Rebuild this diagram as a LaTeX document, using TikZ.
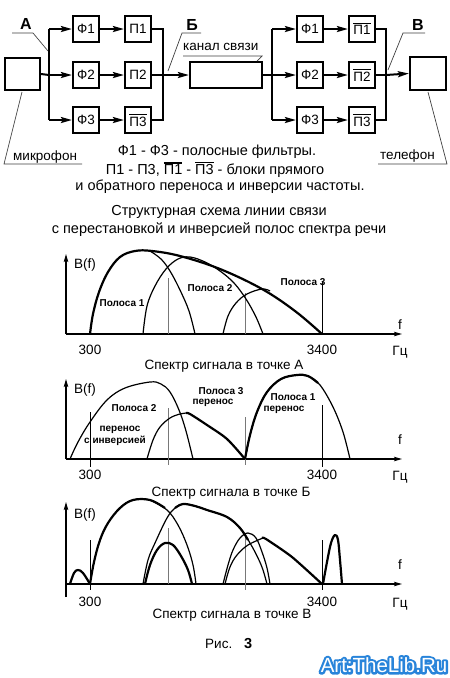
\documentclass[tikz,border=0pt]{standalone}
\usepackage{fontspec}
\setmainfont{Liberation Sans}
\usetikzlibrary{arrows.meta}
\newcommand\ovl[1]{\vbox{\hrule height 1.4pt\kern 1.3pt\hbox{#1}}}
\definecolor{wmblue}{RGB}{40,132,218}
\definecolor{gline}{RGB}{120,120,120}
\tikzset{
  txt/.style={font=\fontsize{13.5}{16}\selectfont, inner sep=0pt},
  txtb/.style={font=\fontsize{14.5}{17}\selectfont, inner sep=0pt},
  big/.style={font=\bfseries\fontsize{16}{18}\selectfont, inner sep=0pt},
  lbl/.style={font=\bfseries\fontsize{10}{12}\selectfont, inner sep=0pt},
  blk/.style={draw, line width=2.2pt, minimum width=26pt, minimum height=26pt, inner sep=0pt, font=\fontsize{13.5}{16}\selectfont},
  wire/.style={line width=2pt},
  arr/.style={line width=2pt, -{Stealth[length=11pt,width=6pt,inset=2pt]}},
  lead/.style={line width=0.7pt, black!75},
  axis/.style={line width=1.2pt, -{Stealth[length=8pt,width=4.5pt,inset=1.5pt]}},
  thk/.style={line width=2.2pt, line join=round},
  thn/.style={line width=1.2pt, line join=round},
  vl/.style={line width=0.8pt},
  gl/.style={line width=0.9pt, gline},
  wm/.style={font=\fontsize{20.5}{24}\selectfont, inner sep=0pt}
}
\begin{document}
\begin{tikzpicture}[x=1pt,y=-1pt]
\useasboundingbox[fill=white] (0,0) rectangle (450,678);

% ---------- block diagram ----------
\node[draw, line width=2.2pt, minimum width=35pt, minimum height=32pt] (mic) at (22.5,74) {};
\node[blk] (f1) at (86,29) {Ф1};
\node[blk] (f2) at (86,75) {Ф2};
\node[blk] (f3) at (86,120) {Ф3};
\node[blk] (p1) at (138,29) {П1};
\node[blk] (p2) at (138,75) {П2};
\node[blk] (p3) at (138,120) {\ovl{П3}};
\node[draw, line width=2.2pt, minimum width=72pt, minimum height=26pt] (chan) at (226,75) {};
\node[blk] (g1) at (310,29) {Ф1};
\node[blk] (g2) at (310,75) {Ф2};
\node[blk] (g3) at (310,120) {Ф3};
\node[blk] (q1) at (362,29) {\ovl{П1}};
\node[blk] (q2) at (362,75) {\ovl{П2}};
\node[blk] (q3) at (362,120) {\ovl{П3}};
\node[draw, line width=2.2pt, minimum width=36pt, minimum height=33pt] (tel) at (428,73.5) {};

\coordinate (a1) at (49,29); \coordinate (a2) at (49,75); \coordinate (a3) at (49,120);
\coordinate (b1) at (163,29); \coordinate (b2) at (163,75); \coordinate (b3) at (163,120);
\coordinate (c1) at (272,29); \coordinate (c2) at (272,75); \coordinate (c3) at (272,120);
\coordinate (d1) at (386,29); \coordinate (d2) at (386,75); \coordinate (d3) at (386,120);

\draw[wire] (mic.east) -- (a2);
\draw[wire] (a1) -- (a3);
\draw[arr] (a1) -- (f1.west);
\draw[arr] (a2) -- (f2.west);
\draw[arr] (a3) -- (f3.west);
\draw[arr] (f1) -- (p1);
\draw[arr] (f2) -- (p2);
\draw[arr] (f3) -- (p3);
\draw[wire] (p1.east) -- (b1) -- (b3) -- (p3.east);
\draw[wire] (p2.east) -- (b2);
\draw[arr] (b2) -- (chan.west);
\draw[wire] (chan.east) -- (c2);
\draw[wire] (c1) -- (c3);
\draw[arr] (c1) -- (g1.west);
\draw[arr] (c2) -- (g2.west);
\draw[arr] (c3) -- (g3.west);
\draw[arr] (g1) -- (q1);
\draw[arr] (g2) -- (q2);
\draw[arr] (g3) -- (q3);
\draw[wire] (q1.east) -- (d1) -- (d3) -- (q3.east);
\draw[wire] (q2.east) -- (d2);
\draw[arr] (d2) -- (tel.west);

% labels with leaders
\node[big] (lA) at (26,24) {А};
\coordinate (lAl) at (12,33); \coordinate (lAr) at (33,33); \coordinate (lAe) at (48,51);
\draw[lead] (lAl) -- (lAr) -- (lAe);
\node[big] (lB) at (192,25) {Б};
\coordinate (lBl) at (182,33); \coordinate (lBr) at (201,33); \coordinate (lBe) at (168,71);
\draw[lead] (lBr) -- (lBl) -- (lBe);
\node[big] (lV) at (418,25) {В};
\coordinate (lVl) at (403,33); \coordinate (lVr) at (425,33); \coordinate (lVe) at (388,70);
\draw[lead] (lVr) -- (lVl) -- (lVe);
\node[txt, anchor=west] (kan) at (183,47) {канал связи};
\coordinate (kl) at (183,56); \coordinate (kr) at (262,56); \coordinate (ke) at (257,61);
\draw[lead] (kl) -- (kr) -- (ke);
\node[txt, anchor=west] (mk) at (13,157) {микрофон};
\coordinate (ml) at (4,164); \coordinate (mr) at (82,164); \coordinate (me) at (22,92);
\draw[lead] (mr) -- (ml) -- (me);
\node[txt, anchor=west] (tf) at (380,156) {телефон};
\coordinate (tl) at (378,164); \coordinate (tr) at (447,164); \coordinate (te) at (428,92);
\draw[lead] (tl) -- (tr) -- (te);

% caption texts
\node[txtb] (t1) at (217,152) {Ф1 - Ф3 - полосные фильтры.};
\node[txtb] (t2) at (215,170) {П1 - П3, \ovl{П1} - \ovl{П3} - блоки прямого};
\node[txtb] (t3) at (220,187) {и обратного переноса и инверсии частоты.};
\node[txtb] (t4) at (219,212) {Структурная схема линии связи};
\node[txtb] (t5) at (219,230) {с перестановкой и инверсией полос спектра речи};

% ---------- graph 1 ----------
\draw[axis] (66,334) -- (402,334);
\draw[axis] (66,334) -- (66,254);
\draw[gl] (168,278) -- (168,334);
\draw[gl] (245,293) -- (245,334);
\draw[vl] (322,282) -- (322,334);
\draw[thn] plot[smooth, tension=0.6] coordinates {(150,251) (161,259) (170,271) (180,290) (189,311) (195,334)};
\draw[thn] plot[smooth, tension=0.6] coordinates {(143,334) (147,306) (155,286) (166,269) (178,259) (190,257) (205,262) (220,271) (234,283) (246,299) (256,317) (263,334)};
\draw[thn] plot[smooth, tension=0.6] coordinates {(223,334) (228,316) (236,303) (247,294) (262,289) (270,291)};
\draw[thk] plot[smooth, tension=0.6] coordinates {(90,334) (93,314) (99,292) (108,272) (120,257) (135,251) (152,251) (180,256) (220,269) (262,289) (295,311) (322,334)};
\node[txt, anchor=west] (bf1) at (74,265) {B(f)};
\node[txt] (ff1) at (400,325) {f};
\node[txt] (x11) at (90,350) {300};
\node[txt] (x12) at (322,350) {3400};
\node[txt] (hz1) at (400,352) {Гц};
\node[lbl] (pa1) at (122,303) {Полоса 1};
\node[lbl] (pa2) at (210,288) {Полоса 2};
\node[lbl] (pa3) at (303,282) {Полоса 3};
\node[txt] (ti1) at (224,366) {Спектр сигнала в точке А};

% ---------- graph 2 ----------
\draw[axis] (66,459) -- (402,459);
\draw[axis] (66,459) -- (66,379);
\draw[vl] (90,412) -- (90,467);
\draw[gl] (168,408) -- (168,465);
\draw[gl] (245,417) -- (245,465);
\draw[vl] (322,405) -- (322,467);
\draw[thn] plot[smooth, tension=0.6] coordinates {(70,459) (78,442) (90,422) (107,400) (125,388) (150,382) (161,384) (170,392) (179,410) (186,431) (193,459)};
\draw[thn] plot[smooth, tension=0.6] coordinates {(147,459) (153,440) (160,427) (170,418) (180,414) (187,413)};
\draw[thk] plot[smooth, tension=0.5] coordinates {(186,413) (190,414) (207,425) (227,439) (245,459)};
\draw[thn] plot[smooth, tension=0.6] coordinates {(245,459) (250,435) (257,412) (267,392) (281,379) (297,375) (308,376) (320,385) (333,407) (343,432) (350,459)};
\draw[thk] plot[smooth, tension=0.6] coordinates {(245,459) (250,435) (257,412) (267,392) (281,379) (297,375) (308,376) (318,383)};
\node[txt, anchor=west] (bf2) at (74,390) {B(f)};
\node[txt] (ff2) at (400,440) {f};
\node[txt] (x21) at (90,475) {300};
\node[txt] (x22) at (322,475) {3400};
\node[txt] (hz2) at (400,477) {Гц};
\node[lbl] (pb2) at (134,408) {Полоса 2};
\node[lbl] (pb2a) at (120,430) {перенос};
\node[lbl] (pb2b) at (115,441) {с инверсией};
\node[lbl] (pb3) at (221,391) {Полоса 3};
\node[lbl] (pb3a) at (213,403) {перенос};
\node[lbl] (pb1) at (293,397) {Полоса 1};
\node[lbl] (pb1a) at (284,410) {перенос};
\node[txt] (ti2) at (231,493) {Спектр сигнала в точке Б};

% ---------- graph 3 ----------
\draw[axis] (66,584) -- (402,584);
\draw[axis] (66,597) -- (66,502);
\draw[vl] (90,540) -- (90,590);
\draw[gl] (168,528) -- (168,584);
\draw[gl] (245,533) -- (245,590);
\draw[vl] (322,540) -- (322,590);
\draw[thk] plot[smooth, tension=0.6] coordinates {(70,584) (74,573) (78,570) (83,573) (90,584)};
\draw[thn] plot[smooth, tension=0.6] coordinates {(150,500) (167,510) (178,525) (187,545) (193,565) (196,584)};
\draw[thk] plot[smooth, tension=0.6] coordinates {(90,584) (94,562) (100,540) (108,523) (120,508) (133,500) (150,500) (165,508)};
\draw[thk] plot[smooth, tension=0.6] coordinates {(145,584) (150,565) (157,550) (165,543) (173,545) (181,556) (188,570) (192,584)};
\draw[thn] plot[smooth, tension=0.6] coordinates {(143,584) (148,560) (155,543) (167,518) (175,508) (183,504) (195,506) (207,510) (227,517) (240,528) (250,543) (258,558) (263,570) (267,584)};
\draw[thk] plot[smooth, tension=0.6] coordinates {(175,508) (183,504) (195,506) (207,510) (227,517) (240,528) (248,540)};
\draw[thn] plot[smooth, tension=0.6] coordinates {(223,584) (228,565) (233,550) (240,538) (248,533) (256,538) (262,552) (267,568) (270,584)};
\draw[thn] plot[smooth, tension=0.6] coordinates {(225,584) (230,567) (237,555) (248,545) (263,538)};
\draw[thk] plot[smooth, tension=0.4] coordinates {(262,538) (266,539) (292,557) (322,584)};
\draw[thk] plot[smooth, tension=0.6] coordinates {(323,584) (327,562) (331,543) (335,535) (338,540) (340,560) (342,584)};
\node[txt, anchor=west] (bf3) at (74,515) {B(f)};
\node[txt] (ff3) at (400,565) {f};
\node[txt] (x31) at (90,602) {300};
\node[txt] (x32) at (322,602) {3400};
\node[txt] (hz3) at (400,604) {Гц};
\node[txt] (ti3) at (232,615) {Спектр сигнала в точке В};

% ---------- figure caption ----------
\node[txt, anchor=west] (ris) at (205,644) {Рис.\hspace{12pt}{\bfseries\fontsize{14.5}{17}\selectfont 3}};

% ---------- watermark (stroked outline + white fill) ----------
\node[wm, text=wmblue] (wmo) at (384,665) {\special{pdf:literal direct 1 Tr 4.5 w 1 j 1 J}Art:TheLib.Ru\special{pdf:literal direct 0 Tr}};
\node[wm, text=white] (wmt) at (384,665) {Art:TheLib.Ru};
\end{tikzpicture}
\end{document}
